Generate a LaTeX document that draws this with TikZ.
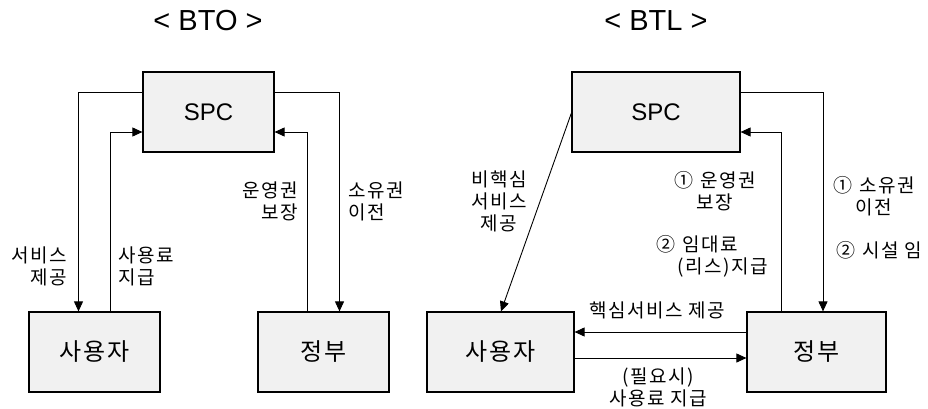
\documentclass[tikz,border=0pt]{standalone}
\usepackage{fontspec}
\setmainfont{Liberation Sans}
\newfontfamily\krfont[LetterSpace=8]{Noto Sans CJK KR}
\usepackage{xcolor}
\usetikzlibrary{arrows.meta}
\definecolor{boxgray}{HTML}{F1F1F1}

\begin{document}
\begin{tikzpicture}[x=1pt, y=-1pt,
          box/.style={draw, line width=1.2pt, fill=boxgray,
                      minimum width=131pt, minimum height=80pt,
                      font=\fontsize{24}{28}\selectfont},
          krbox/.style={box, font=\krfont\fontsize{24}{28}\selectfont},
          lbl/.style={inner sep=0pt, font=\krfont\fontsize{19}{22}\selectfont},
          title/.style={font=\fontsize{29}{32}\selectfont},
          arr/.style={-{Triangle[length=10pt, width=9pt]}, line width=0.9pt},
        ]
        \useasboundingbox (0,0) rectangle (928,409);

        \node[title] (btotitle) at (208,21) {< BTO >};
        \node[box] (btospc) at (208.5,112) {SPC};
        \node[krbox] (btouser) at (94.5,352) {사용자};
        \node[krbox] (btogov) at (323.5,352) {정부};

        \draw[arr] ([yshift=20pt]btospc.west) -| ([xshift=-16pt]btouser.north);
        \draw[arr] ([xshift=16pt]btouser.north) |- ([yshift=-20pt]btospc.west);
        \draw[arr] ([xshift=-16pt]btogov.north) |- ([yshift=-20pt]btospc.east);
        \draw[arr] ([yshift=20pt]btospc.east) -| ([xshift=16pt]btogov.north);

        \node[lbl, align=right, anchor=east] (svc) at (67,266) {서비스\\제공};
        \node[lbl, align=left, anchor=west] (fee) at (118,266) {사용료\\지급};
        \node[lbl, align=right, anchor=east] (oper) at (298,201) {운영권\\보장};
        \node[lbl, align=left, anchor=west] (own) at (348,201) {소유권\\이전};

        \node[title] (btltitle) at (656,21) {< BTL >};
        \node[box, minimum width=168pt] (btlspc) at (656,112) {SPC};
        \node[krbox, minimum width=147pt] (btluser) at (500.5,352) {사용자};
        \node[krbox, minimum width=139pt] (btlgov) at (816.5,352) {정부};

        \draw[arr] ([yshift=-1pt]btlspc.west) -- ([xshift=0.5pt]btluser.north);
        \draw[arr] ([xshift=-35.5pt]btlgov.north) |- ([yshift=-20pt]btlspc.east);
        \draw[arr] ([yshift=20pt]btlspc.east) -| ([xshift=6.5pt]btlgov.north);
        \draw[arr] ([yshift=20pt]btlgov.west) -- ([yshift=20pt]btluser.east);
        \draw[arr] ([yshift=-6pt]btluser.east) -- ([yshift=-6pt]btlgov.west);

        \node[lbl, align=center] (noncore) at (499,201) {비핵심\\서비스\\제공};
        \node[lbl, align=center] (btloper) at (715,191)
              {①\hspace{7pt}운영권\\보장};
        \node[lbl, align=left, anchor=west] (lease) at (656,256)
              {②\hspace{7pt}임대료\\\hspace*{21pt}(리스)지급};
        \node[lbl, align=center] (btlown) at (874,196)
              {①\hspace{7pt}소유권\\이전};
        \node[lbl, anchor=west] (lend) at (836,250) {②\hspace{7pt}시설 임};
        \node[lbl] (core) at (657,310) {핵심서비스 제공};
        \node[lbl, align=center] (userfee) at (658,387) {(필요시)\\사용료 지급};
      \end{tikzpicture}
\end{document}
